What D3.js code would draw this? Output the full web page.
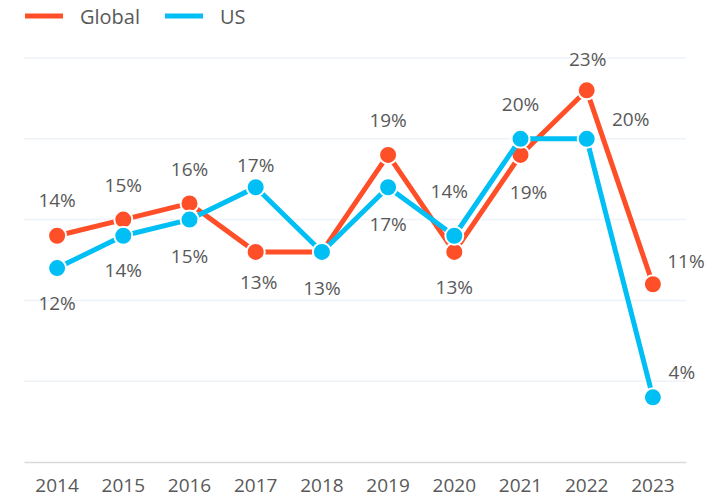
<!DOCTYPE html>
<html>
<head>
<meta charset="utf-8">
<script src="https://cdn.jsdelivr.net/npm/d3@7"></script>
<style>
  body { margin: 0; background: #fff; }
  text { font-family: "Open Sans", "Noto Sans", sans-serif; fill: #595959; }
</style>
</head>
<body>
<div id="chart-wrapper"></div>
<script>
const years = ["2014", "2015", "2016", "2017", "2018", "2019", "2020", "2021", "2022", "2023"];
const globalValues = [14, 15, 16, 13, 13, 19, 13, 19, 23, 11];
const usValues = [12, 14, 15, 17, 13, 17, 14, 20, 20, 4];
const yTicks = [0, 5, 10, 15, 20, 25];

// label offset from the point to the label centre, null = no label
const globalLabelOffsets = [[0, -35], [0, -34], [0, -34], [3, 31], null, [0, -34], [0, 36], [8, 38], [1, -31], [33, -23]];
const usLabelOffsets = [[0, 35], [0, 35], [0, 37], [0, -22], [0, 37], [0, 37], [-5, -44], [0, -34], [44, -19], [29, -25]];

const dimensions = { width: 725, height: 498 };
const margin = { left: 24, right: 39, top: 58, bottom: 36 };

const series = [
  { name: "Global", values: globalValues, offsets: globalLabelOffsets, color: "#ff4f28" },
  { name: "US", values: usValues, offsets: usLabelOffsets, color: "#00bff5" },
];

const xScale = d3
  .scaleBand()
  .domain(years)
  .range([margin.left, dimensions.width - margin.right]);
const yScale = d3
  .scaleLinear()
  .domain([0, 25])
  .range([dimensions.height - margin.bottom, margin.top]);

const svg = d3
  .select("#chart-wrapper")
  .append("svg")
  .attr("width", dimensions.width)
  .attr("height", dimensions.height);

// gridlines
svg.append("g")
  .selectAll("line")
  .data(yTicks.filter(d => d > 0))
  .join("line")
  .attr("x1", margin.left)
  .attr("x2", dimensions.width - margin.right)
  .attr("y1", d => yScale(d))
  .attr("y2", d => yScale(d))
  .attr("stroke", "#eef3f9")
  .attr("stroke-width", 1.5);

// x axis
const xAxis = svg.append("g")
  .attr("transform", `translate(0,${yScale(0)})`)
  .call(d3.axisBottom(xScale).tickSize(0).tickPadding(17));
xAxis.select(".domain").attr("stroke", "#d9d9d9").attr("stroke-width", 1.5);
xAxis.selectAll("text")
  .style("font-family", '"Open Sans", sans-serif')
  .style("font-size", "19px")
  .attr("fill", "#595959");

const lineGen = d3.line()
  .x((d, i) => xScale(years[i]) + xScale.bandwidth() / 2)
  .y(d => yScale(d));

series.forEach(s => {
  const g = svg.append("g");
  g.append("path")
    .attr("d", lineGen(s.values))
    .attr("fill", "none")
    .attr("stroke", s.color)
    .attr("stroke-width", 5)
    .attr("stroke-linejoin", "round");
  g.selectAll("circle")
    .data(s.values)
    .join("circle")
    .attr("cx", (d, i) => xScale(years[i]) + xScale.bandwidth() / 2)
    .attr("cy", d => yScale(d))
    .attr("r", 9)
    .attr("fill", s.color)
    .attr("stroke", "#fff")
    .attr("stroke-width", 2);
});

// data labels on top of everything
series.forEach(s => {
  svg.append("g")
    .selectAll("text")
    .data(s.values.map((v, i) => ({ v, i, off: s.offsets[i] })).filter(d => d.off))
    .join("text")
    .attr("x", d => xScale(years[d.i]) + xScale.bandwidth() / 2 + d.off[0])
    .attr("y", d => yScale(d.v) + d.off[1] + 6.5)
    .attr("text-anchor", "middle")
    .style("font-size", "19px")
    .text(d => d.v + "%");
});

// legend
const legend = svg.append("g");
const legendX = [25, 165];
series.forEach((s, i) => {
  legend.append("line")
    .attr("x1", legendX[i])
    .attr("x2", legendX[i] + 38)
    .attr("y1", 16)
    .attr("y2", 16)
    .attr("stroke", s.color)
    .attr("stroke-width", 5);
  legend.append("text")
    .attr("x", legendX[i] + 55)
    .attr("y", 24)
    .style("font-size", "20px")
    .text(s.name);
});
</script>
</body>
</html>
